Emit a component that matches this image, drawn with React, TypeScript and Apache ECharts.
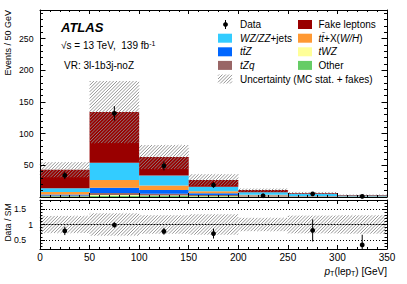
import React, { useEffect, useRef } from "react";
import * as echarts from "echarts";

// ---------------- data ----------------
const binLow = [0, 50, 100, 150, 200, 250, 300];
const binHigh = [50, 100, 150, 200, 250, 300, 350];

// stacked backgrounds, bottom -> top
const otherBkg = [1, 2, 1.5, 1, 0.5, 0.3, 0.2];
const tWZBkg = [0.3, 1, 1, 0.5, 0.3, 0.1, 0.1];
const tZqBkg = [1.2, 3.5, 2.5, 1.5, 0.7, 0.3, 0.2];
const ttZBkg = [1.5, 8, 6, 3, 1, 0.5, 0.4];
const ttXBkg = [4, 12.5, 7, 3, 1, 0.5, 0.3];
const wzzzBkg = [6, 27, 16, 7, 4, 3.5, 1.3];
const fakeBkg = [29, 80, 29, 11, 3.5, 1, 0.5];

// total uncertainty (MC stat. + fakes), absolute
const totalUnc = [12, 49, 19, 9, 2.4, 1.8, 0.9];

// observed data
const dataCounts = [34, 132, 49, 19, 2, 5, 1];

// axis ranges / ticks
const X_MIN = 0;
const X_MAX = 350;
const X_MAJOR = 50;
const Y_MAX = 295;
const Y_MAJOR = 50;
const Y_MINOR = 10;
const R_MIN = 0.2;
const R_MAX = 1.8;
const R_MINOR = 0.1;
const R_REF = 1;

// ---------------- styling ----------------
const FONT = "'Liberation Sans', Arial, Helvetica, sans-serif";
const HATCH_STEP = 3.3;
const HATCH_STYLE = { stroke: "#8a8a8a", lineWidth: 0.9 };

const components = [
  { name: "Other", values: otherBkg, color: "#66cc66" },
  { name: "tWZ", values: tWZBkg, color: "#ffff99" },
  { name: "tZq", values: tZqBkg, color: "#996666" },
  { name: "ttZ", values: ttZBkg, color: "#0066ff" },
  { name: "ttX", values: ttXBkg, color: "#ff9933" },
  { name: "WZ/ZZ+jets", values: wzzzBkg, color: "#33ccff" },
  { name: "Fake leptons", values: fakeBkg, color: "#990000" },
];

function hatchLines(x0: number, y0: number, x1: number, y1: number) {
  const out: any[] = [];
  const cStart = Math.ceil((x0 + y0) / HATCH_STEP) * HATCH_STEP;
  for (let c = cStart; c <= x1 + y1; c += HATCH_STEP) {
    const xa = Math.max(x0, c - y1);
    const xb = Math.min(x1, c - y0);
    if (xb > xa) {
      out.push({
        type: "line",
        shape: { x1: xa, y1: c - xa, x2: xb, y2: c - xb },
        style: HATCH_STYLE,
      });
    }
  }
  return out;
}

const rectRenderer = (color: string) => (params: any, api: any) => {
  const tl = api.coord([api.value(0), api.value(3)]);
  const br = api.coord([api.value(1), api.value(2)]);
  return {
    type: "rect",
    shape: { x: tl[0], y: tl[1], width: br[0] - tl[0], height: br[1] - tl[1] },
    style: { fill: color },
  };
};

const hatchRenderer = (params: any, api: any) => {
  const tl = api.coord([api.value(0), api.value(3)]);
  const br = api.coord([api.value(1), api.value(2)]);
  return { type: "group", children: hatchLines(tl[0], tl[1], br[0], br[1]) };
};

const pointRenderer = (yMin: number, yMax: number) => (params: any, api: any) => {
  const x = api.value(0);
  const y = api.value(1);
  const lo = api.value(2);
  const hi = api.value(3);
  if (y < yMin || y > yMax) return { type: "group", children: [] };
  const c = api.coord([x, y]);
  const pLo = api.coord([x, Math.max(lo, yMin)]);
  const pHi = api.coord([x, Math.min(hi, yMax)]);
  return {
    type: "group",
    children: [
      {
        type: "line",
        shape: { x1: c[0], y1: pLo[1], x2: c[0], y2: pHi[1] },
        style: { stroke: "#000", lineWidth: 1 },
      },
      { type: "circle", shape: { cx: c[0], cy: c[1], r: 2.4 }, style: { fill: "#000" } },
    ],
  };
};

function buildOption() {
  const series: any[] = [];
  let base = binLow.map(() => 0);
  components.forEach((c) => {
    const rows = c.values.map((v, i) => [binLow[i], binHigh[i], base[i], base[i] + v]);
    base = base.map((b, i) => b + c.values[i]);
    series.push({
      type: "custom",
      name: c.name,
      xAxisIndex: 0,
      yAxisIndex: 0,
      data: rows,
      renderItem: rectRenderer(c.color),
      silent: true,
      z: 2,
    });
  });
  const totals = base;

  // main-panel uncertainty band
  series.push({
    type: "custom",
    xAxisIndex: 0,
    yAxisIndex: 0,
    data: totals.map((t, i) => [binLow[i], binHigh[i], t - totalUnc[i], t + totalUnc[i]]),
    renderItem: hatchRenderer,
    silent: true,
    z: 3,
  });

  // main-panel data
  series.push({
    type: "custom",
    xAxisIndex: 0,
    yAxisIndex: 0,
    data: dataCounts.map((d, i) => [
      (binLow[i] + binHigh[i]) / 2,
      d,
      d - Math.sqrt(d),
      d + Math.sqrt(d),
    ]),
    renderItem: pointRenderer(0, Y_MAX),
    silent: true,
    z: 5,
  });

  // ratio band
  series.push({
    type: "custom",
    xAxisIndex: 2,
    yAxisIndex: 4,
    data: totals.map((t, i) => [binLow[i], binHigh[i], 1 - totalUnc[i] / t, 1 + totalUnc[i] / t]),
    renderItem: hatchRenderer,
    silent: true,
    z: 3,
  });

  // reference line at 1
  series.push({
    type: "line",
    xAxisIndex: 2,
    yAxisIndex: 4,
    data: [
      [X_MIN, R_REF],
      [X_MAX, R_REF],
    ],
    symbol: "none",
    lineStyle: { color: "#777", width: 1 },
    silent: true,
    z: 4,
  });

  // ratio data
  series.push({
    type: "custom",
    xAxisIndex: 2,
    yAxisIndex: 4,
    data: dataCounts.map((d, i) => {
      const r = d / totals[i];
      const e = Math.sqrt(d) / totals[i];
      return [(binLow[i] + binHigh[i]) / 2, r, r - e, r + e];
    }),
    renderItem: pointRenderer(R_MIN, R_MAX),
    silent: true,
    z: 5,
  });

  const blk = { color: "#000", width: 1 };

  const xAxisDef = (gridIndex: number, position: string, labels: boolean) => ({
    type: "value",
    gridIndex,
    position,
    min: X_MIN,
    max: X_MAX,
    interval: X_MAJOR,
    z: 10,
    axisLine: { show: true, onZero: false, lineStyle: blk },
    axisTick: { show: true, inside: true, length: 4, lineStyle: blk },
    minorTick: { show: true, splitNumber: 5, length: 2, lineStyle: blk },
    axisLabel: { show: labels, margin: 3, fontSize: 10, fontFamily: FONT, color: "#000" },
    splitLine: { show: false },
    minorSplitLine: { show: false },
  });

  const yMainMajor = (position: string, labels: boolean) => ({
    type: "value",
    gridIndex: 0,
    position,
    min: 0,
    max: Y_MAX,
    interval: Y_MAJOR,
    z: 10,
    axisLine: { show: true, onZero: false, lineStyle: blk },
    axisTick: { show: true, inside: true, length: 5.5, lineStyle: blk },
    axisLabel: {
      show: labels,
      margin: 6.5,
      fontSize: 8.7,
      fontFamily: FONT,
      color: "#000",
      formatter: (v: number) => (v > 0 && v % Y_MAJOR === 0 ? String(v) : ""),
    },
    splitLine: { show: false },
  });

  const yMainMinor = (position: string) => ({
    type: "value",
    gridIndex: 0,
    position,
    min: 0,
    max: Y_MAX,
    interval: Y_MINOR,
    z: 10,
    axisLine: { show: false, onZero: false },
    axisTick: { show: true, inside: true, length: 3, lineStyle: blk },
    axisLabel: { show: false },
    splitLine: { show: false },
  });

  const yRatioMajor = (position: string, labels: boolean) => ({
    type: "value",
    gridIndex: 1,
    position,
    min: R_MIN,
    max: R_MAX,
    splitNumber: 3,
    z: 10,
    axisLine: { show: true, onZero: false, lineStyle: blk },
    axisTick: { show: true, inside: true, length: 5, lineStyle: blk },
    axisLabel: {
      show: labels,
      margin: 7,
      fontSize: 8.7,
      fontFamily: FONT,
      color: "#000",
      formatter: (v: number) => {
        const isHalf = Math.abs(v * 2 - Math.round(v * 2)) < 1e-6;
        if (!isHalf || v <= R_MIN || v >= R_MAX) return "";
        const s = String(Math.round(v * 10) / 10);
        return s.indexOf(".") >= 0 ? "{p|" + s + "}" : s;
      },
      rich: { p: { padding: [0, 7, 0, 0], fontSize: 8.7, fontFamily: FONT, color: "#000" } },
    },
    splitLine: {
      show: labels,
      lineStyle: { color: "#000", width: 1, type: [1, 2] },
    },
  });

  const yRatioMinor = (position: string) => ({
    type: "value",
    gridIndex: 1,
    position,
    min: R_MIN,
    max: R_MAX,
    interval: R_MINOR,
    z: 10,
    axisLine: { show: false, onZero: false },
    axisTick: { show: true, inside: true, length: 2.5, lineStyle: blk },
    axisLabel: { show: false },
    splitLine: { show: false },
  });

  const txt = (
    x: number,
    y: number,
    text: string,
    extra: any = {},
    styleExtra: any = {}
  ) => ({
    type: "text",
    x,
    y,
    z: 100,
    ...extra,
    style: {
      text,
      fill: "#000",
      fontSize: 10,
      fontFamily: FONT,
      align: "left",
      textAlign: "left",
      verticalAlign: "middle",
      textVerticalAlign: "middle",
      ...styleExtra,
    },
  });

  const R = (fs = 10) => ({
    n: { fontSize: fs, fontFamily: FONT, fill: "#000", color: "#000", lineHeight: 12 },
    i: { fontSize: fs, fontFamily: FONT, fontStyle: "italic", fill: "#000", color: "#000", lineHeight: 12 },
    s: { fontSize: 7, fontFamily: FONT, fill: "#000", color: "#000", lineHeight: 6, verticalAlign: "bottom" },
    u: { fontSize: 7, fontFamily: FONT, fill: "#000", color: "#000", lineHeight: 6, verticalAlign: "top" },
  });

  const box = (x: number, y: number, color: string) => ({
    type: "rect",
    z: 100,
    shape: { x, y, width: 14, height: 9 },
    style: { fill: color },
  });

  const colorOf = (name: string) => components.find((c) => c.name === name)!.color;

  const rowY = [24.5, 38.2, 51.8, 65.4, 79];
  const c1Box = 218;
  const c1Txt = 240;
  const c2Box = 298;
  const c2Txt = 318.5;

  const graphic: any[] = [
    // ATLAS label block
    txt(61, 27.7, "ATLAS", {}, { fontSize: 13, fontWeight: "bold", fontStyle: "italic" }),
    txt(61, 45.7, "{n|\u221As = 13 TeV,  139 fb}{u|-1}", {}, { rich: R(10) }),
    txt(64, 65, "VR: 3l-1b3j-noZ", {}, { fontSize: 10 }),
    // axis titles
    txt(7.5, 10, "Events / 50 GeV", { rotation: Math.PI / 2 }, {
      fontSize: 9,
      align: "right",
      textAlign: "right",
    }),
    txt(8.3, 222.5, "Data / SM", { rotation: Math.PI / 2 }, {
      fontSize: 8.6,
      align: "center",
      textAlign: "center",
    }),
    txt(387, 271, "{i|p}{s|T}{n|(lep}{s|T}{n|) [GeV]}", {}, {
      rich: R(10),
      align: "right",
      textAlign: "right",
    }),
    // legend column 1
    {
      type: "line",
      z: 100,
      shape: { x1: 225.5, y1: rowY[0] - 4.5, x2: 225.5, y2: rowY[0] + 4.5 },
      style: { stroke: "#000", lineWidth: 1 },
    },
    { type: "circle", z: 100, shape: { cx: 225.5, cy: rowY[0], r: 2.4 }, style: { fill: "#000" } },
    txt(c1Txt, rowY[0], "Data"),
    box(c1Box, rowY[1] - 4.5, colorOf("WZ/ZZ+jets")),
    txt(c1Txt, rowY[1], "{i|WZ/ZZ}{n|+jets}", {}, { rich: R(10) }),
    box(c1Box, rowY[2] - 4.5, colorOf("ttZ")),
    txt(c1Txt, rowY[2], "{i|tt\u0304Z}", {}, { rich: R(10) }),
    box(c1Box, rowY[3] - 4.5, colorOf("tZq")),
    txt(c1Txt, rowY[3], "{i|tZq}", {}, { rich: R(10) }),
    {
      type: "group",
      z: 100,
      children: hatchLines(c1Box, rowY[4] - 4.5, c1Box + 14, rowY[4] + 4.5),
    },
    txt(c1Txt, rowY[4], "Uncertainty (MC stat. + fakes)"),
    // legend column 2
    box(c2Box, rowY[0] - 4.5, colorOf("Fake leptons")),
    txt(c2Txt, rowY[0], "Fake leptons"),
    box(c2Box, rowY[1] - 4.5, colorOf("ttX")),
    txt(c2Txt, rowY[1], "{i|tt\u0304}{n|+X(}{i|W/H}{n|)}", {}, { rich: R(10) }),
    box(c2Box, rowY[2] - 4.5, colorOf("tWZ")),
    txt(c2Txt, rowY[2], "{i|tWZ}", {}, { rich: R(10) }),
    box(c2Box, rowY[3] - 4.5, colorOf("Other")),
    txt(c2Txt, rowY[3], "Other"),
  ];

  return {
    animation: false,
    backgroundColor: "#ffffff",
    textStyle: { fontFamily: FONT },
    grid: [
      { left: 40, top: 10, width: 347, height: 187 },
      { left: 40, top: 200, width: 347, height: 49 },
    ],
    xAxis: [
      xAxisDef(0, "bottom", false),
      xAxisDef(0, "top", false),
      xAxisDef(1, "bottom", true),
      xAxisDef(1, "top", false),
    ],
    yAxis: [
      yMainMajor("left", true),
      yMainMinor("left"),
      yMainMajor("right", false),
      yMainMinor("right"),
      yRatioMajor("left", true),
      yRatioMinor("left"),
      yRatioMajor("right", false),
      yRatioMinor("right"),
    ],
    series,
    graphic,
  };
}

export default function App() {
  const ref = useRef<HTMLDivElement>(null);
  useEffect(() => {
    if (!ref.current) return;
    const chart = echarts.init(ref.current, null, { renderer: "svg" });
    chart.setOption(buildOption() as any);
    return () => chart.dispose();
  }, []);
  return (
    <div
      ref={ref}
      style={{ position: "fixed", left: 0, top: 0, width: 407, height: 284, background: "#fff" }}
    />
  );
}
